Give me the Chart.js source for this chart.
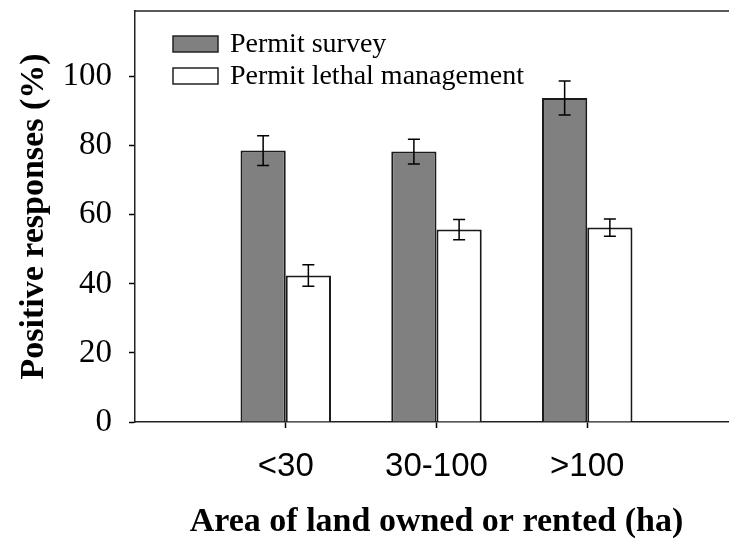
<!DOCTYPE html>
<html>
<head>
<meta charset="utf-8">
<script src="https://cdn.jsdelivr.net/npm/chart.js@4/dist/chart.umd.min.js"></script>
<style>
  html, body { margin: 0; padding: 0; background: #fff; overflow: hidden; }
  #wrap { width: 729px; height: 545px; overflow: hidden; position: relative; }
  #chart { position: absolute; left: 0; top: 0; }
</style>
</head>
<body>
<div id="wrap"><canvas id="chart" width="745" height="545"></canvas></div>
<script>
// land area classes (ha)
const categories = ['<30', '30-100', '>100'];
// positive responses (%) and error bar half-widths
const surveyValues = [78.6, 78.3, 93.8];
const surveyErrors = [4.3, 3.6, 4.9];
const lethalValues = [42.4, 55.7, 56.3];
const lethalErrors = [3.1, 2.9, 2.5];
const yTicks = [0, 20, 40, 60, 80, 100];

const serif = "'Liberation Serif', 'Times New Roman', serif";
const sans = "'Liberation Sans', Arial, sans-serif";

// one empty slot on each side of the groups
const labels = ['', ...categories, ''];
const pad = arr => [null, ...arr, null];

// no automatic label padding, the plot box is placed by hand
function noScalePadding(scale) {
    scale.paddingTop = 0;
    scale.paddingBottom = 0;
    scale.paddingLeft = 0;
    scale.paddingRight = 0;
}

// error bars
const errorBars = {
    id: 'errorBars',
    afterDatasetsDraw(chart) {
        const ctx = chart.ctx;
        const y = chart.scales.y;
        ctx.save();
        ctx.strokeStyle = '#000';
        ctx.lineWidth = 1.5;
        chart.data.datasets.forEach((ds, di) => {
            const meta = chart.getDatasetMeta(di);
            ds.data.forEach((v, i) => {
                if (v == null) return;
                const err = ds.errors[i];
                const x = meta.data[i].x;
                const top = y.getPixelForValue(v + err);
                const bot = y.getPixelForValue(v - err);
                ctx.beginPath();
                ctx.moveTo(x, top); ctx.lineTo(x, bot);
                ctx.moveTo(x - 6, top); ctx.lineTo(x + 6, top);
                ctx.moveTo(x - 6, bot); ctx.lineTo(x + 6, bot);
                ctx.stroke();
            });
        });
        ctx.restore();
    }
};

// frame top line + legend inside the plot
const frameAndLegend = {
    id: 'frameAndLegend',
    afterDraw(chart) {
        const ctx = chart.ctx;
        const a = chart.chartArea;
        ctx.save();
        ctx.strokeStyle = '#222';
        ctx.lineWidth = 1.5;
        ctx.beginPath();
        ctx.moveTo(a.left, a.top);
        ctx.lineTo(a.right, a.top);
        ctx.stroke();

        ctx.font = '28px ' + serif;
        ctx.textBaseline = 'middle';
        chart.data.datasets.forEach((ds, i) => {
            const yMid = 44 + i * 32;
            ctx.fillStyle = ds.backgroundColor;
            ctx.fillRect(173, yMid - 8, 45, 16);
            ctx.strokeStyle = '#222';
            ctx.lineWidth = 1.5;
            ctx.strokeRect(173, yMid - 8, 45, 16);
            ctx.fillStyle = '#000';
            ctx.fillText(ds.label, 230, yMid + 1);
        });
        ctx.restore();
    }
};

new Chart(document.getElementById('chart'), {
    type: 'bar',
    data: {
        labels: labels,
        datasets: [
            {
                label: 'Permit survey',
                data: pad(surveyValues),
                errors: pad(surveyErrors),
                backgroundColor: '#808080',
                borderColor: '#1a1a1a',
                borderWidth: 2
            },
            {
                label: 'Permit lethal management',
                data: pad(lethalValues),
                errors: pad(lethalErrors),
                backgroundColor: '#ffffff',
                borderColor: '#1a1a1a',
                borderWidth: 2
            }
        ]
    },
    options: {
        responsive: false,
        animation: false,
        datasets: {
            bar: { categoryPercentage: 0.6, barPercentage: 1.0 }
        },
        layout: { padding: { top: 11, right: 7, left: 0, bottom: 0 } },
        plugins: {
            legend: { display: false },
            tooltip: { enabled: false }
        },
        scales: {
            x: {
                offset: false,
                grid: {
                    offset: false,
                    drawOnChartArea: false,
                    tickLength: 6,
                    tickWidth: 1.5,
                    tickColor: c => (c.index === 0 || c.index === labels.length - 1) ? 'rgba(0,0,0,0)' : '#000'
                },
                border: { display: true, color: '#222', width: 1.5 },
                ticks: {
                    color: '#000',
                    font: { family: sans, size: 33 },
                    padding: 19,
                    maxRotation: 0,
                    autoSkip: false
                },
                title: {
                    display: true,
                    text: 'Area of land owned or rented (ha)',
                    color: '#000',
                    font: { family: serif, size: 34, weight: 'bold' },
                    padding: { top: 0, bottom: 2 }
                },
                afterFit(scale) {
                    scale.height = 123;
                    noScalePadding(scale);
                }
            },
            y: {
                min: 0,
                max: 119,
                grid: {
                    drawOnChartArea: false,
                    tickLength: 6,
                    tickWidth: 1.5,
                    tickColor: '#000'
                },
                border: { display: true, color: '#222', width: 1.5 },
                afterBuildTicks(scale) {
                    scale.ticks = yTicks.map(v => ({ value: v }));
                },
                ticks: {
                    color: '#000',
                    font: { family: serif, size: 33 },
                    padding: 17
                },
                title: {
                    display: true,
                    text: 'Positive responses (%)',
                    color: '#000',
                    font: { family: serif, size: 34, weight: 'bold' },
                    padding: { top: 14, bottom: 0 }
                },
                afterFit(scale) {
                    scale.width = 135;
                    noScalePadding(scale);
                }
            }
        }
    },
    plugins: [errorBars, frameAndLegend]
});
</script>
</body>
</html>
